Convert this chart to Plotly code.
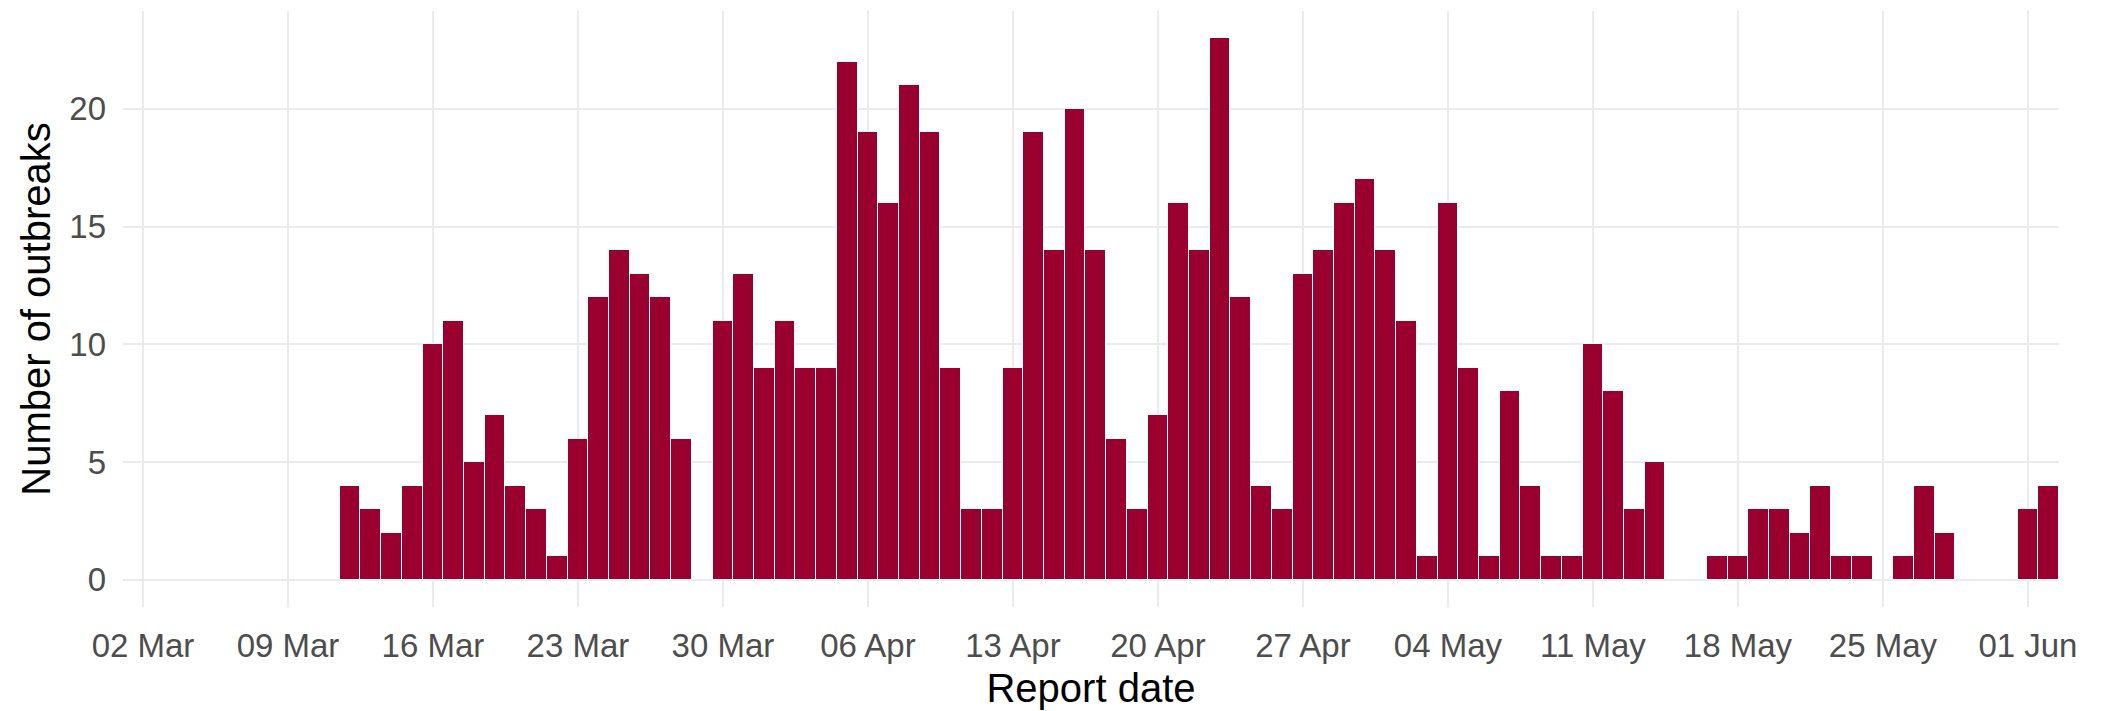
import pandas as pd
import plotly.graph_objects as go

start_date = "2020-03-12"
counts_mar = [4, 3, 2, 4, 10, 11, 5, 7, 4, 3, 1, 6, 12, 14, 13, 12, 6, 0, 11, 13]
counts_apr = [9, 11, 9, 9, 22, 19, 16, 21, 19, 9, 3, 3, 9, 19, 14, 20, 14, 6, 3, 7,
              16, 14, 23, 12, 4, 3, 13, 14, 16, 17]
counts_may = [14, 11, 1, 16, 9, 1, 8, 4, 1, 1, 10, 8, 3, 5, 0, 0, 1, 1, 3, 3,
              2, 4, 1, 1, 0, 1, 4, 2, 0, 0, 0]
counts_jun = [3, 4]
tick_labels = ["02 Mar", "09 Mar", "16 Mar", "23 Mar", "30 Mar", "06 Apr", "13 Apr",
               "20 Apr", "27 Apr", "04 May", "11 May", "18 May", "25 May", "01 Jun"]

counts = counts_mar + counts_apr + counts_may + counts_jun
dates = pd.date_range(start_date, periods=len(counts), freq="D")
df = pd.DataFrame({"date": dates, "n": counts})
df = df[df["n"] > 0]

tick_vals = pd.date_range("2020-03-02", periods=len(tick_labels), freq="7D")

fig = go.Figure()
fig.add_trace(go.Bar(
    x=df["date"], y=df["n"],
    width=86400000,
    marker=dict(color="#99002F", line=dict(color="white", width=1)),
))

font_family = "Liberation Sans, Arial, sans-serif"
# the page body adds an 8px offset; the figure is sized so it still fills the window
fig.update_layout(
    width=2093, height=703,
    margin=dict(l=115, r=42, t=3, b=104),
    paper_bgcolor="white", plot_bgcolor="white",
    showlegend=False,
    bargap=0,
    font=dict(family=font_family),
)
fig.update_xaxes(
    range=["2020-03-01 00:50", "2020-06-02 12:00"],
    tickvals=tick_vals, ticktext=tick_labels,
    showgrid=True, gridcolor="#EBEBEB", gridwidth=2,
    zeroline=False, showline=False, ticks="",
    automargin=False,
    tickfont=dict(size=33, color="#4D4D4D", family=font_family),
    ticklabelstandoff=16,
    title=dict(text="Report date", font=dict(size=40, color="black", family=font_family), standoff=10),
)
fig.update_yaxes(
    range=[-1.15, 24.15],
    tickvals=[0, 5, 10, 15, 20],
    showgrid=True, gridcolor="#EBEBEB", gridwidth=2,
    zeroline=False, showline=False, ticks="",
    automargin=False,
    tickfont=dict(size=33, color="#4D4D4D", family=font_family),
    ticklabelstandoff=16,
    title=dict(text="Number of outbreaks", font=dict(size=40, color="black", family=font_family), standoff=6),
)

fig.write_html("out.html")
